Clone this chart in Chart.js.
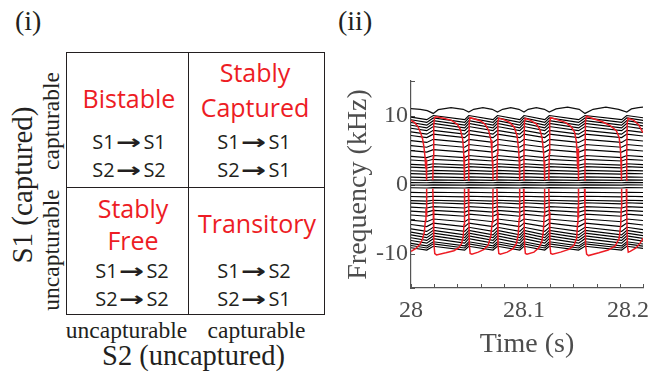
<!DOCTYPE html>
<html>
<head>
<meta charset="utf-8">
<title>Capture regimes and frequency trace</title>
<script src="https://cdn.jsdelivr.net/npm/chart.js@4.4.1/dist/chart.umd.min.js"></script>
<style>
  html, body { margin: 0; padding: 0; background: #fff; }
  body { width: 655px; height: 375px; position: relative; overflow: hidden; }
  .abs { position: absolute; white-space: nowrap; line-height: 1; }
  .serif { font-family: 'Liberation Serif', 'Times New Roman', serif; color: #231f20; }
  .red { font-family: 'Open Sans', sans-serif; font-size: 25px; color: #ed1c24; transform: translateX(-50%); }
  .blk { font-family: 'Open Sans', sans-serif; font-size: 20px; color: #231f20; transform: translateX(-50%); }
  .ar { font-family: 'DejaVu Sans', sans-serif; font-weight: bold; display: inline-block; transform: scaleX(1.5); margin: 0 6px; }
  .ctr { transform: translateX(-50%); }
  .rot { transform: translate(-50%, -50%) rotate(-90deg); }
  .ln { position: absolute; background: #231f20; }
  #wrap { position: absolute; left: 330px; top: 0; width: 325px; height: 375px; }
</style>
</head>
<body>
<!-- panel (i): capture diagram -->
<div class="abs serif" style="left:15px; top:7px; font-size:28px;">(i)</div>
<div class="ln" style="left:66px; top:52px; width:259px; height:1.4px;"></div>
<div class="ln" style="left:66px; top:314px; width:259px; height:1.4px;"></div>
<div class="ln" style="left:66px; top:52px; width:1.4px; height:263px;"></div>
<div class="ln" style="left:324px; top:52px; width:1.4px; height:263px;"></div>
<div class="ln" style="left:187.5px; top:52px; width:1.4px; height:263px;"></div>
<div class="ln" style="left:66px; top:186.5px; width:259px; height:1.4px;"></div>

<div class="abs red" style="left:129px; top:86px;">Bistable</div>
<div class="abs blk" style="left:129px; top:132px;">S1<span class="ar">→</span>S1</div>
<div class="abs blk" style="left:129px; top:160px;">S2<span class="ar">→</span>S2</div>

<div class="abs red" style="left:255px; top:59.5px;">Stably</div>
<div class="abs red" style="left:255px; top:94.5px;">Captured</div>
<div class="abs blk" style="left:254px; top:132px;">S1<span class="ar">→</span>S1</div>
<div class="abs blk" style="left:254px; top:160px;">S2<span class="ar">→</span>S1</div>

<div class="abs red" style="left:133px; top:196px;">Stably</div>
<div class="abs red" style="left:133px; top:228px;">Free</div>
<div class="abs blk" style="left:132px; top:261px;">S1<span class="ar">→</span>S2</div>
<div class="abs blk" style="left:132px; top:289px;">S2<span class="ar">→</span>S2</div>

<div class="abs red" style="left:257px; top:211px;">Transitory</div>
<div class="abs blk" style="left:254px; top:261px;">S1<span class="ar">→</span>S2</div>
<div class="abs blk" style="left:254px; top:289px;">S2<span class="ar">→</span>S1</div>

<div class="abs serif ctr" style="left:126.5px; top:318.6px; font-size:23.5px;">uncapturable</div>
<div class="abs serif ctr" style="left:256.5px; top:318.6px; font-size:23.5px;">capturable</div>
<div class="abs serif ctr" style="left:193.5px; top:342px; font-size:28.5px;">S2 (uncaptured)</div>
<div class="abs serif rot" style="left:51.6px; top:121px; font-size:23.5px;">capturable</div>
<div class="abs serif rot" style="left:51.6px; top:250px; font-size:23.5px;">uncapturable</div>
<div class="abs serif rot" style="left:22px; top:185px; font-size:29px;">S1 (captured)</div>

<!-- panel (ii): frequency trace -->
<div class="abs serif" style="left:338px; top:7px; font-size:28px;">(ii)</div>
<div id="wrap"><canvas id="c" width="325" height="375"></canvas></div>

<script>
// times (s) where the red trace drops to 0 and jumps back out
const dropTimes = [28.0136, 28.0463, 28.0707, 28.0938, 28.1153, 28.1445, 28.1816];
const riseTimes = [28.0192, 28.0498, 28.0745, 28.0974, 28.1192, 28.1500, 28.1860];

// black traces: level (kHz) at each drop, and the jump at each rise
const lineLevels = [9.4, 9.0, 8.6, 8.2, 7.8, 7.3, 6.8, 6.1, 5.4, 4.7, 3.9, 3.4, 2.8, 2.4, 1.9, 1.5, 1.0, 0.6, 0.25, -0.1,
  -0.5, -1.2, -1.8, -2.4, -2.8, -3.4, -4.0, -4.6, -5.4, -6.1, -6.8, -7.3, -7.7, -8.1, -8.5, -8.9, -9.2, -9.5];
const lineSwings = [0.6, 0.65, 0.65, 0.65, 0.6, 0.55, 0.5, 0.45, 0.4, 0.35, 0.3, 0.25, 0.2, 0.18, 0.15, 0.12, 0.1, 0.08, 0.05, 0.05,
  0.05, 0.08, 0.1, 0.12, 0.15, 0.2, 0.25, 0.3, 0.4, 0.5, 0.6, 0.65, 0.65, 0.65, 0.65, 0.6, 0.6, 0.55];

// wavy top trace
const topLine = [[28.000, 11.0], [28.008, 10.9], [28.014, 10.7], [28.0192, 10.3], [28.0235, 10.85], [28.0345, 11.15], [28.045, 10.9],
  [28.0498, 10.5], [28.054, 10.9], [28.062, 11.15], [28.070, 10.9], [28.0745, 10.5], [28.079, 10.9], [28.086, 11.15], [28.093, 10.9],
  [28.0974, 10.5], [28.101, 10.9], [28.108, 11.15], [28.115, 10.9], [28.1192, 10.5], [28.125, 10.95], [28.135, 11.2], [28.145, 10.9],
  [28.1500, 10.3], [28.157, 10.9], [28.168, 11.2], [28.179, 10.9], [28.1860, 10.5], [28.190, 10.95], [28.196, 11.15], [28.200, 11.2]];

// red trace, upper branch (null = trace hidden near 0)
const redUpper = [
  [28.0000, 9.3], [28.0030, 9.0], [28.0060, 8.4], [28.0085, 7.4], [28.0100, 6.6], [28.0112, 5.4], [28.0122, 3.8], [28.0127, 2.4],
  [28.0130, 3.6], [28.0133, 1.6], [28.0136, 0.6], [28.0165, null],
  [28.0188, 0.6], [28.0192, 4.0], [28.0196, 8.6], [28.0203, 9.7], [28.0215, 9.8], [28.0280, 9.6], [28.0350, 9.3], [28.0400, 8.7],
  [28.0425, 8.0], [28.0445, 6.6], [28.0453, 5.0], [28.0457, 3.2], [28.0459, 4.2], [28.0461, 2.0], [28.0463, 0.6], [28.0480, null],
  [28.0494, 0.6], [28.0498, 4.5], [28.0502, 9.0], [28.0509, 9.7], [28.0550, 9.5], [28.0600, 9.2], [28.0640, 8.7], [28.0670, 7.8],
  [28.0690, 6.4], [28.0698, 4.6], [28.0703, 2.8], [28.0705, 3.6], [28.0707, 0.6], [28.0725, null],
  [28.0741, 0.6], [28.0745, 4.5], [28.0749, 9.0], [28.0756, 9.6], [28.0800, 9.4], [28.0850, 9.0], [28.0890, 8.3], [28.0915, 7.0],
  [28.0928, 5.0], [28.0934, 3.0], [28.0936, 3.8], [28.0938, 0.6], [28.0955, null],
  [28.0970, 0.6], [28.0974, 4.5], [28.0978, 9.0], [28.0985, 9.6], [28.1030, 9.3], [28.1080, 8.8], [28.1110, 8.0], [28.1130, 6.8],
  [28.1143, 4.6], [28.1149, 2.6], [28.1151, 3.4], [28.1153, 0.6], [28.1172, null],
  [28.1188, 0.6], [28.1192, 4.5], [28.1196, 9.0], [28.1203, 9.7], [28.1260, 9.4], [28.1330, 9.0], [28.1380, 8.4], [28.1410, 7.6],
  [28.1426, 6.2], [28.1433, 4.0], [28.1436, 2.2], [28.1438, 4.8], [28.1441, 5.2], [28.1443, 3.0], [28.1445, 0.6], [28.1472, null],
  [28.1496, 0.6], [28.1500, 4.5], [28.1504, 9.2], [28.1512, 9.9], [28.1580, 9.5], [28.1650, 9.1], [28.1720, 8.5], [28.1770, 7.8],
  [28.1795, 6.8], [28.1806, 5.0], [28.1811, 2.8], [28.1813, 3.8], [28.1816, 0.6], [28.1838, null],
  [28.1856, 0.6], [28.1860, 4.5], [28.1864, 9.0], [28.1872, 9.6], [28.1920, 9.3], [28.1960, 8.7], [28.2000, 7.5]];

// red trace, lower branch
const redLower = [
  [28.0000, -9.7], [28.0040, -9.3], [28.0080, -8.6], [28.0100, -7.9], [28.0115, -6.9], [28.0124, -5.2], [28.0129, -3.5],
  [28.0132, -4.6], [28.0134, -2.2], [28.0136, -0.6], [28.0165, null],
  [28.0188, -0.6], [28.0192, -3.5], [28.0195, -4.5], [28.0198, -8.5], [28.0205, -10.0], [28.0220, -10.2], [28.0300, -9.9],
  [28.0370, -9.6], [28.0410, -9.2], [28.0435, -8.6], [28.0450, -7.6], [28.0457, -5.8], [28.0460, -3.5], [28.0463, -0.6], [28.0480, null],
  [28.0494, -0.6], [28.0498, -4.0], [28.0503, -8.8], [28.0510, -10.0], [28.0525, -10.1], [28.0580, -9.8], [28.0630, -9.4],
  [28.0665, -8.8], [28.0688, -7.5], [28.0700, -5.5], [28.0705, -3.2], [28.0707, -0.6], [28.0725, null],
  [28.0741, -0.6], [28.0745, -4.0], [28.0750, -8.8], [28.0757, -10.0], [28.0770, -10.1], [28.0830, -9.8], [28.0880, -9.3],
  [28.0910, -8.5], [28.0925, -7.2], [28.0932, -5.0], [28.0936, -3.0], [28.0938, -0.6], [28.0955, null],
  [28.0970, -0.6], [28.0974, -4.0], [28.0979, -8.8], [28.0986, -10.0], [28.1000, -10.1], [28.1060, -9.8], [28.1100, -9.2],
  [28.1128, -8.3], [28.1141, -6.8], [28.1148, -4.5], [28.1151, -2.8], [28.1153, -0.6], [28.1172, null],
  [28.1188, -0.6], [28.1192, -4.0], [28.1197, -8.8], [28.1205, -10.0], [28.1220, -10.1], [28.1290, -9.8], [28.1360, -9.4],
  [28.1405, -8.8], [28.1428, -7.8], [28.1436, -5.6], [28.1439, -3.2], [28.1441, -4.8], [28.1443, -2.6], [28.1445, -0.6], [28.1472, null],
  [28.1496, -0.6], [28.1500, -4.0], [28.1505, -8.8], [28.1514, -10.1], [28.1530, -10.3], [28.1620, -9.9], [28.1700, -9.5],
  [28.1760, -8.9], [28.1795, -7.8], [28.1808, -5.8], [28.1813, -3.4], [28.1816, -0.6], [28.1838, null],
  [28.1856, -0.6], [28.1860, -4.0], [28.1865, -8.8], [28.1873, -9.8], [28.1890, -9.7], [28.1940, -9.2], [28.1975, -8.5], [28.2000, -7.8]];

const xLabels = { 28: '28', 28.1: '28.1 ', 28.2: '28.2     ' };
const yLabels = { 10: '10', 0: '0', '-10': '-10' };

const toPts = arr => arr.map(p => ({ x: p[0], y: p[1] }));

const blackSets = lineLevels.map((lvl, i) => {
  const s = lineSwings[i];
  const pts = [{ x: 28, y: lvl + 0.6 * s }];
  dropTimes.forEach((d, k) => {
    pts.push({ x: d, y: lvl });
    pts.push({ x: riseTimes[k], y: lvl + s });
  });
  pts.push({ x: 28.2, y: lvl + 0.45 * s });
  return { data: pts, borderColor: '#000', borderWidth: 1.15, order: 2 };
});

const datasets = [
  { data: toPts(redUpper), borderColor: '#ed1c24', borderWidth: 1.5, order: 0 },
  { data: toPts(redLower), borderColor: '#ed1c24', borderWidth: 1.5, order: 0 },
  { data: toPts(topLine), borderColor: '#111', borderWidth: 1.25, order: 1 },
  ...blackSets
];

// matlab-style ticks pointing into the plot
const inwardTicks = {
  id: 'inwardTicks',
  beforeDatasetsDraw(chart) {
    const { ctx, scales: { x, y } } = chart;
    ctx.save();
    ctx.strokeStyle = '#555';
    ctx.lineWidth = 1;
    x.ticks.forEach(t => {
      const px = Math.round(x.getPixelForValue(t.value)) + 0.5;
      ctx.beginPath(); ctx.moveTo(px, x.top); ctx.lineTo(px, x.top - 4); ctx.stroke();
    });
    y.ticks.forEach(t => {
      const py = Math.round(y.getPixelForValue(t.value)) + 0.5;
      ctx.beginPath(); ctx.moveTo(y.right, py); ctx.lineTo(y.right + 4, py); ctx.stroke();
    });
    ctx.restore();
  }
};

const grey = '#4d4d4d';
const serif = 'Liberation Serif';

new Chart(document.getElementById('c'), {
  type: 'line',
  data: { datasets },
  options: {
    responsive: false,
    animation: false,
    devicePixelRatio: 1,
    spanGaps: false,
    layout: { padding: { top: 81, right: 12, left: 0, bottom: 0 } },
    plugins: { legend: { display: false }, tooltip: { enabled: false } },
    elements: { point: { radius: 0 }, line: { tension: 0 } },
    scales: {
      x: {
        type: 'linear', min: 28, max: 28.2,
        grid: { display: false, drawTicks: false },
        border: { color: '#555', width: 1.2 },
        ticks: {
          stepSize: 0.02, autoSkip: false, maxRotation: 0, padding: 8, color: grey,
          font: { family: serif, size: 24 },
          callback: v => {
            const k = Math.round(v * 10) / 10;
            return Math.abs(v - k) < 1e-6 ? (xLabels[k] || '') : '';
          }
        },
        title: { display: true, text: 'Time (s)', color: grey, font: { family: serif, size: 28 }, padding: { top: 0, bottom: 14 } },
        afterFit: s => { s.height = 87; s.paddingLeft = 0; s.paddingRight = 0; }
      },
      y: {
        min: -15, max: 15,
        grid: { display: false, drawTicks: false },
        border: { color: '#555', width: 1.2 },
        ticks: {
          stepSize: 5, padding: 3, color: grey,
          font: { family: serif, size: 24 },
          callback: v => yLabels[v] || ''
        },
        title: { display: true, text: 'Frequency (kHz)', color: grey, font: { family: serif, size: 28 }, padding: { top: 12, bottom: 0 } },
        afterFit: s => { s.width = 81; s.paddingTop = 0; s.paddingBottom = 0; }
      }
    }
  },
  plugins: [inwardTicks]
});
</script>
</body>
</html>
